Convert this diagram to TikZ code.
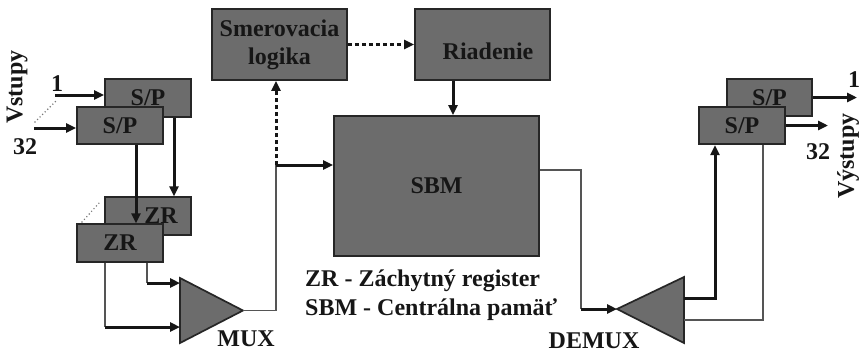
\documentclass[tikz,border=0pt]{standalone}
\usepackage{fontspec}
\setmainfont{Liberation Serif}[BoldFont={Liberation Serif Bold}]
\usetikzlibrary{arrows.meta,calc}
\definecolor{boxfill}{RGB}{108,108,108}
\definecolor{edge}{RGB}{38,38,38}
\definecolor{ink}{RGB}{22,22,22}
\definecolor{wire}{RGB}{85,85,85}
\definecolor{dots}{RGB}{120,120,120}
\begin{document}
\begin{tikzpicture}[x=1pt,y=-1pt,
  font=\fontsize{24}{28}\selectfont\bfseries,
  text=ink,
  blk/.style={draw=edge, fill=boxfill, line width=1.7pt, inner sep=0pt},
  sp/.style={blk, minimum width=86pt, minimum height=37.5pt},
  bus/.style={draw=ink, line width=3pt, -{Triangle[length=10pt,width=9pt]}},
  wirestyle/.style={draw=wire, line width=1.8pt},
  ctrl/.style={draw=ink, line width=3pt, dash pattern=on 4pt off 3pt, -{Triangle[length=10pt,width=9pt]}},
  ellip/.style={draw=dots, line width=1.6pt, line cap=round, dash pattern=on 0pt off 3.6pt},
  lbl/.style={inner sep=0pt}
]
\useasboundingbox[fill=white] (0,0) rectangle (861,354);

% input side: serial/parallel converters and latch registers
\node[sp] (spB1) at (148,98) {S/P};
\node[sp] (spA1) at (120,125.5) {S/P};
\node[sp] (zrB) at (148,216) {\hspace*{26pt}ZR};
\node[sp] (zrA) at (120,243) {ZR};

% control blocks and central memory
\node[blk, minimum width=135pt, minimum height=71pt, align=center] (smer) at (279.5,44.5) {Smerovacia\\logika};
\node[blk, minimum width=135pt, minimum height=71pt, text height=30pt, text depth=0pt] (riad) at (482.5,44.5) {\hspace*{11pt}Riadenie};
\node[blk, minimum width=205pt, minimum height=140pt] (SBM) at (436.5,186) {SBM};

% output side converters
\node[sp, minimum width=85pt] (spB2) at (769.5,97.5) {S/P};
\node[sp] (spA2) at (742,125.5) {S/P};

% multiplexer and demultiplexer
\coordinate (muxT) at (180,278);
\coordinate (muxB) at (180,343);
\coordinate (muxO) at (243,310.5);
\coordinate (muxI1) at (180,283);
\coordinate (muxI2) at (180,327);
\draw[blk] (muxT) -- (muxO) -- (muxB) -- cycle;

\coordinate (dmxI) at (617,309);
\coordinate (dmxT) at (684,277);
\coordinate (dmxB) at (684,343);
\coordinate (dmxO1) at (684,298);
\coordinate (dmxO2) at (684,320);
\draw[blk] (dmxI) -- (dmxT) -- (dmxB) -- cycle;

% inputs
\coordinate (in1) at (55,95);
\coordinate (in32) at (34,128);
\draw[bus] (in1) -- (in1 -| spB1.west);
\draw[bus] (in32) -- (in32 -| spA1.west);
\draw[ellip] (35,122) -- (57,100);
\draw[ellip] (82,222) -- (100,202);

% S/P to ZR
\draw[bus] ([xshift=26pt]spB1.south) -- ([xshift=26pt]zrB.north);
\draw[bus] ([xshift=16pt]spA1.south) -- ([xshift=16pt]zrA.north);

% ZR to MUX
\coordinate (zt1) at ([xshift=27pt]zrA.south);
\coordinate (zt2) at ([xshift=-15pt]zrA.south);
\draw[wirestyle] (zt1) -- (zt1 |- muxI1);
\draw[wirestyle] (zt2) -- (zt2 |- muxI2);
\draw[bus] (zt1 |- muxI1) -- (muxI1);
\draw[bus] (zt2 |- muxI2) -- (muxI2);

% MUX to SBM and routing logic
\coordinate (jn) at (276,165);
\draw[wirestyle] (muxO) -| (jn);
\draw[bus] (jn) -- (jn -| SBM.west);
\draw[ctrl] (jn) -- (jn |- smer.south);
\draw[ctrl] (smer.east) -- (riad.west);
\draw[bus] ([xshift=-29.5pt]riad.south) -- ([xshift=-29.5pt]riad.south |- SBM.north);

% SBM to DEMUX
\coordinate (bend) at (581,170);
\draw[wirestyle] ([yshift=16pt]SBM.east) -- (bend) -- (bend |- dmxI);
\draw[bus] (bend |- dmxI) -- (dmxI);

% DEMUX to output converters
\draw[wirestyle] (dmxO2) -| ([xshift=21pt]spA2.south);
\draw[bus] (dmxO1) -| ([xshift=-27pt]spA2.south);

% outputs
\coordinate (out1) at (857,97.5);
\coordinate (out32) at (828,125.5);
\draw[bus] (spB2.east) -- (out1);
\draw[bus] (spA2.east) -- (out32);

% labels
\node[lbl] (l1) at (57,84) {1};
\node[lbl] (l32) at (25,147) {32};
\node[lbl, rotate=90] (vst) at (17,87) {Vstupy};
\node[lbl] (r1) at (854,80) {1};
\node[lbl] (r32) at (818,152) {32};
\node[lbl, rotate=90] (vyst) at (848,156) {Výstupy};
\node[lbl] (muxL) at (246,339) {MUX};
\node[lbl] (dmxL) at (594,341) {DEMUX};
\node[lbl, anchor=west] (leg1) at (305,281) {ZR - Záchytný register};
\node[lbl, anchor=west] (leg2) at (305,310) {SBM - Centrálna pamäť};
\end{tikzpicture}
\end{document}
